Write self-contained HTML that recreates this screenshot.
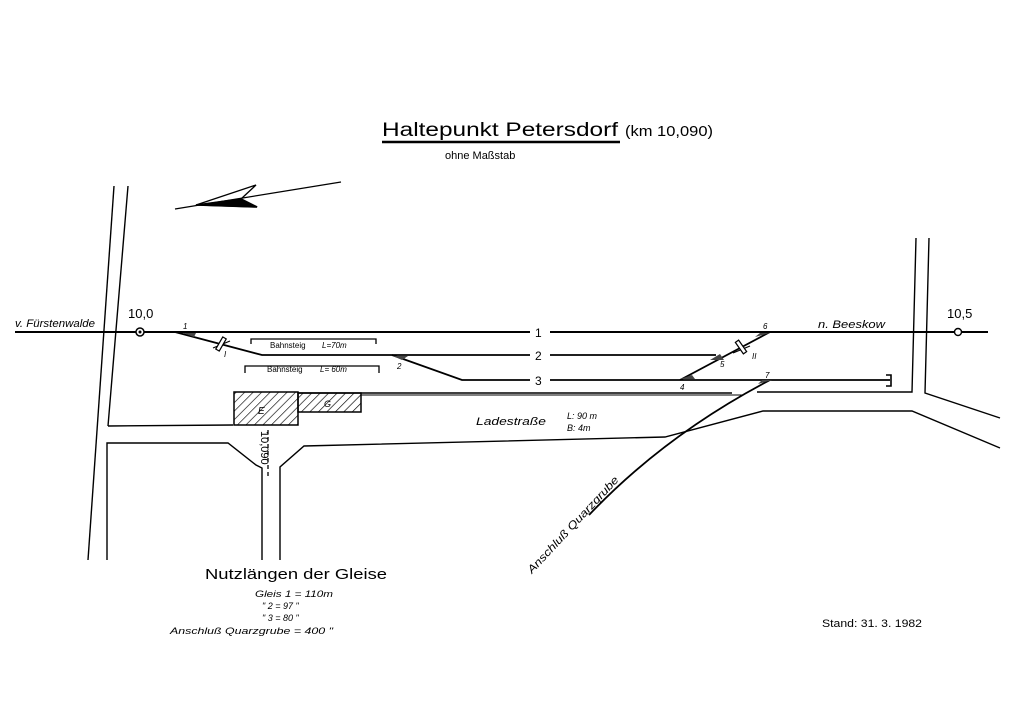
<!DOCTYPE html>
<html><head><meta charset="utf-8"><style>
html,body{margin:0;padding:0;background:#fff;}
svg{display:block;}
text{font-family:"Liberation Sans",sans-serif;fill:#000;}
.i{font-style:italic;}
</style></head><body>
<svg width="1024" height="724" viewBox="0 0 1024 724" xmlns="http://www.w3.org/2000/svg">
<defs>
<pattern id="h" width="6" height="6" patternUnits="userSpaceOnUse" patternTransform="rotate(45)">
<line x1="0" y1="0" x2="0" y2="6" stroke="#000" stroke-width="1.3"/></pattern>
</defs>
<g stroke="#000" fill="none" stroke-width="1.6">
<line x1="382" y1="142" x2="620" y2="142" stroke-width="2.5"/>
<line x1="175" y1="209" x2="341" y2="182" stroke-width="1.3"/>
<polygon points="196,205 256,185 241,199 257,207" fill="none" stroke-width="1.3"/>
<polygon points="196,205 241,199 257,207" fill="#000"/>
<line x1="114" y1="186" x2="88" y2="560" stroke-width="1.4"/>
<line x1="128" y1="186" x2="108" y2="426" stroke-width="1.4"/>
<line x1="108" y1="426" x2="233" y2="425" stroke-width="1.4"/>
<polyline points="107,560 107,443 228,443 256,465 262,468 262,560" stroke-width="1.4"/>
<polyline points="280,560 280,467 304,446 665,437 763,411 912,411 1000,448" stroke-width="1.4"/>
<polyline points="916,238 912,392 757,392" stroke-width="1.4"/>
<polyline points="929,238 925,393 1000,418" stroke-width="1.4"/>
<line x1="15" y1="332" x2="530" y2="332" stroke-width="2"/>
<line x1="550" y1="332" x2="988" y2="332" stroke-width="2"/>
<polyline points="175,332 262,355 530,355" stroke-width="1.8"/>
<line x1="550" y1="355" x2="716" y2="355" stroke-width="1.8"/>
<polyline points="392,355 462,380 530,380" stroke-width="1.8"/>
<line x1="550" y1="380" x2="890" y2="380" stroke-width="1.8"/>
<polyline points="886,375 891,375 891,386 886,386" stroke-width="1.6"/>
<line x1="680" y1="380" x2="770" y2="332" stroke-width="1.8"/>
<line x1="298" y1="393" x2="732" y2="393" stroke-width="1.6"/>
<line x1="361" y1="395" x2="743" y2="395" stroke-width="1"/>
<path d="M770,380 Q665,435 589,515" stroke-width="1.8"/>
<polyline points="251,344 251,339 376,339 376,344" stroke-width="1.3"/>
<polyline points="245,373 245,366 379,366 379,373" stroke-width="1.3"/>
<rect x="234" y="392" width="64" height="33" fill="url(#h)" stroke-width="1.5"/>
<rect x="298" y="393" width="63" height="19" fill="url(#h)" stroke-width="1.5"/>
<line x1="268" y1="430" x2="268" y2="478" stroke-dasharray="4,3" stroke-width="1.3"/>
<line x1="213" y1="348" x2="230" y2="341" stroke-width="1.2"/>
<rect x="219" y="337" width="4" height="14" transform="rotate(30 221 344)" fill="#fff" stroke-width="1.2"/>
<line x1="733" y1="353" x2="750" y2="346" stroke-width="1.2"/>
<rect x="739" y="340" width="4" height="14" transform="rotate(-35 741 347)" fill="#fff" stroke-width="1.2"/>
</g>
<g fill="#444">
<polygon points="183,333 196,333 194,337"/>
<polygon points="393,356 408,356 402,360"/>
<polygon points="680,379 695,379 692,375"/>
<polygon points="710,360 724,360 720,354"/>
<polygon points="755,337 770,333 760,333"/>
<polygon points="758,384 772,380 762,380"/>
</g>
<circle cx="140" cy="332" r="4" fill="#fff" stroke="#000" stroke-width="1.5"/>
<circle cx="140" cy="332" r="1.5" fill="#000"/>
<circle cx="958" cy="332" r="3.5" fill="#fff" stroke="#000" stroke-width="1.4"/>
<text x="382" y="136" font-size="19" textLength="236" lengthAdjust="spacingAndGlyphs">Haltepunkt  Petersdorf</text>
<text x="625" y="136" font-size="15" textLength="88" lengthAdjust="spacingAndGlyphs">(km 10,090)</text>
<text x="445" y="159" font-size="11">ohne Maßstab</text>
<text x="15" y="327" font-size="11" class="i" textLength="80" lengthAdjust="spacingAndGlyphs">v. Fürstenwalde</text>
<text x="128" y="318" font-size="13">10,0</text>
<text x="947" y="318" font-size="13">10,5</text>
<text x="818" y="328" font-size="11" class="i" textLength="67" lengthAdjust="spacingAndGlyphs">n. Beeskow</text>
<text x="535" y="337" font-size="12">1</text>
<text x="535" y="360" font-size="12">2</text>
<text x="535" y="385" font-size="12">3</text>
<text x="183" y="329" font-size="8" class="i">1</text>
<text x="224" y="357" font-size="8" class="i">I</text>
<text x="397" y="369" font-size="8" class="i">2</text>
<text x="680" y="390" font-size="8" class="i">4</text>
<text x="720" y="367" font-size="8" class="i">5</text>
<text x="763" y="329" font-size="8" class="i">6</text>
<text x="752" y="359" font-size="8" class="i">II</text>
<text x="765" y="378" font-size="8" class="i">7</text>
<text x="270" y="348" font-size="8">Bahnsteig</text>
<text x="322" y="348" font-size="8" class="i">L=70m</text>
<text x="267" y="372" font-size="8">Bahnsteig</text>
<text x="320" y="372" font-size="8" class="i">L= 60m</text>
<text x="258" y="414" font-size="10" class="i">E</text>
<text x="324" y="407" font-size="9" class="i">G</text>
<text x="476" y="425" font-size="11" class="i" textLength="70" lengthAdjust="spacingAndGlyphs">Ladestraße</text>
<text x="567" y="419" font-size="9" class="i">L: 90 m</text>
<text x="567" y="431" font-size="9" class="i">B:  4m</text>
<text font-size="11" transform="translate(261,431) rotate(90)">10,090</text>
<text font-size="11" class="i" transform="translate(532,574) rotate(-47)" textLength="128" lengthAdjust="spacingAndGlyphs">Anschluß Quarzgrube</text>
<text x="205" y="579" font-size="15" textLength="182" lengthAdjust="spacingAndGlyphs">Nutzlängen der Gleise</text>
<text x="255" y="597" font-size="9" class="i" textLength="78" lengthAdjust="spacingAndGlyphs">Gleis  1 =  110m</text>
<text x="262" y="609" font-size="9" class="i">"      2 =   97 "</text>
<text x="262" y="621" font-size="9" class="i">"      3 =   80 "</text>
<text x="170" y="634" font-size="9" class="i" textLength="163" lengthAdjust="spacingAndGlyphs">Anschluß Quarzgrube = 400 "</text>
<text x="822" y="627" font-size="11" textLength="100" lengthAdjust="spacingAndGlyphs">Stand: 31. 3. 1982</text>
</svg>
</body></html>
